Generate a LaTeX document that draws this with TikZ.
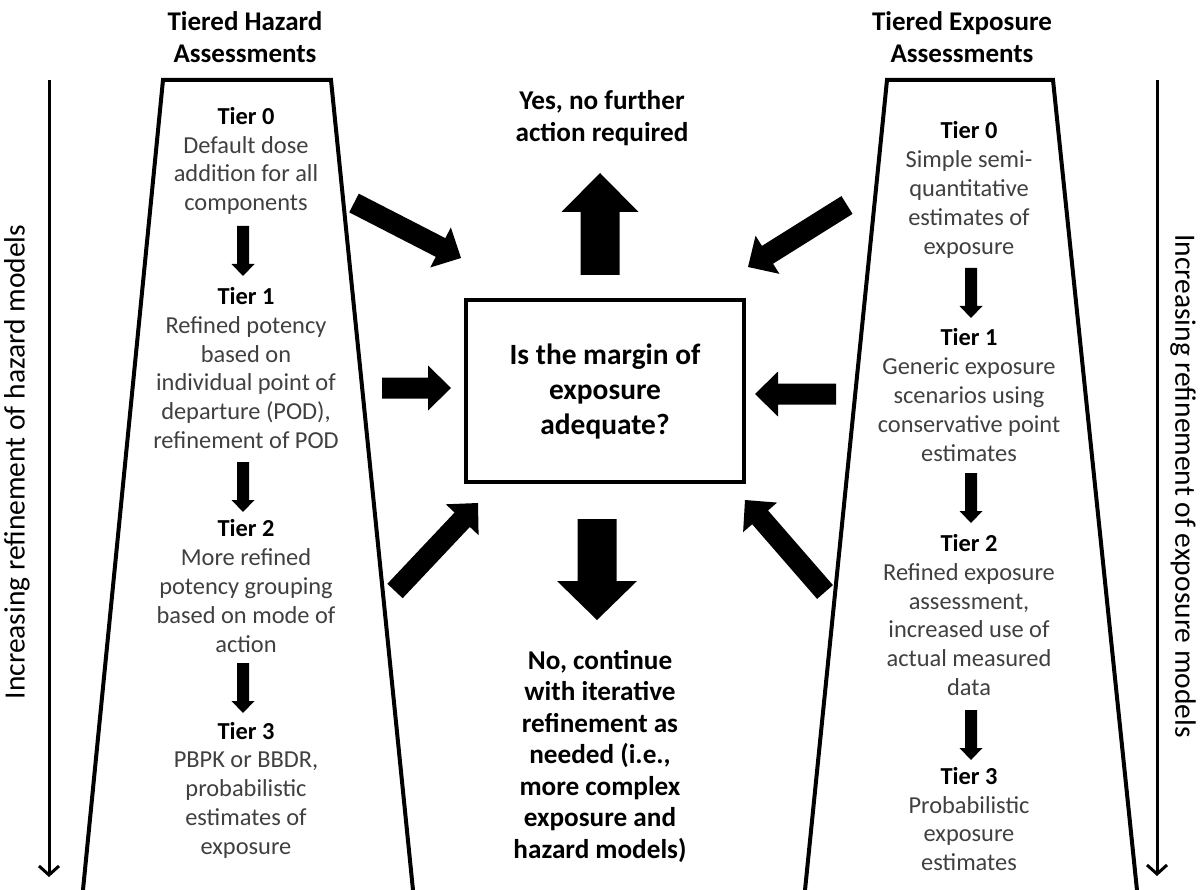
\documentclass[tikz,border=0pt]{standalone}
\usepackage{fontspec}
\setmainfont{Carlito}
\usetikzlibrary{calc,arrows.meta}
\newcommand\blockarrow[5]{% #1 tail, #2 tip, #3 half shaft, #4 half head, #5 head length
  \path ($(#2)!#5!(#1)$) coordinate (#1-base);
  \fill ($(#1)!#3!90:(#2)$) -- ($(#1-base)!#3!90:(#2)$) -- ($(#1-base)!#4!90:(#2)$) -- (#2)
     -- ($(#1-base)!#4!-90:(#2)$) -- ($(#1-base)!#3!-90:(#2)$) -- ($(#1)!#3!-90:(#2)$) -- cycle;}
\tikzset{
  head/.style={align=center, inner sep=0pt, font=\fontsize{27}{32}\selectfont\bfseries},
  tiertext/.style={align=center, inner sep=0pt, text=black!75, font=\fontsize{24.4}{28.8}\selectfont},
  bigtext/.style={align=center, inner sep=0pt, font=\fontsize{27.2}{31.5}\selectfont\bfseries},
  sidelabel/.style={inner sep=0pt, font=\fontsize{29.5}{34}\selectfont},
  frame/.style={line width=4pt, line join=miter},
  axisarrow/.style={line width=3pt, -{Straight Barb[length=9pt,width=20pt,line width=3pt]}},
}
\newcommand\tiername[1]{{\color{black}\bfseries #1}}
\begin{document}
\begin{tikzpicture}[x=1pt,y=-1pt]
\useasboundingbox (0,0) rectangle (1201,890);
\fill[white] (0,0) rectangle (1201,890);

% headings
\node[head] (hhead) at (245,37) {Tiered Hazard\\Assessments};
\node[head] (ehead) at (962,37) {Tiered Exposure\\Assessments};

% trapezoids
\draw[frame] (82,900) -- (163,80) -- (331,80) -- (414,900);
\draw[frame] (804,900) -- (887,80) -- (1053,80) -- (1138,900);

% side axes
\coordinate (la1) at (49,80); \coordinate (la2) at (49,877);
\coordinate (ra1) at (1157,80); \coordinate (ra2) at (1157,876);
\draw[axisarrow] (la1) -- (la2);
\draw[axisarrow] (ra1) -- (ra2);
\node[sidelabel, rotate=90] (llab) at (17,462) {Increasing refinement of hazard models};
\node[sidelabel, rotate=-90] (rlab) at (1183,486) {Increasing refinement of exposure models};

% left column
\node[tiertext] (h0) at (246,161) {\tiername{Tier 0}\\Default dose\\addition for all\\components};
\node[tiertext] (h1) at (246,368) {\tiername{Tier 1}\\Refined potency\\based on\\individual point of\\departure (POD),\\refinement of POD};
\node[tiertext] (h2) at (246,586) {\tiername{Tier 2}\\More refined\\potency grouping\\based on mode of\\action};
\node[tiertext] (h3) at (246,790) {\tiername{Tier 3}\\PBPK or BBDR,\\probabilistic\\estimates of\\exposure};

% right column
\node[tiertext] (e0) at (969,190) {\tiername{Tier 0}\\Simple semi-\\quantitative\\estimates of\\exposure};
\node[tiertext] (e1) at (969,395) {\tiername{Tier 1}\\Generic exposure\\scenarios using\\conservative point\\estimates};
\node[tiertext] (e2) at (969,615) {\tiername{Tier 2}\\Refined exposure\\assessment,\\increased use of\\actual measured\\data};
\node[tiertext] (e3) at (969,819) {\tiername{Tier 3}\\Probabilistic\\exposure\\estimates};

% small tier arrows
\coordinate (sh1t) at (243,226); \coordinate (sh1h) at (243,276);
\coordinate (sh2t) at (243,462); \coordinate (sh2h) at (243,512);
\coordinate (sh3t) at (243,663); \coordinate (sh3h) at (243,713);
\coordinate (se1t) at (971,268); \coordinate (se1h) at (971,318);
\coordinate (se2t) at (971,473); \coordinate (se2h) at (971,523);
\coordinate (se3t) at (971,710); \coordinate (se3h) at (971,760);
\foreach \a in {sh1,sh2,sh3,se1,se2,se3}{\blockarrow{\a t}{\a h}{6pt}{11.5pt}{12pt}}

% central box
\node[draw, line width=4pt, minimum width=278pt, minimum height=182pt, inner sep=0pt,
      align=center, font=\fontsize{29.4}{35}\selectfont\bfseries] (box) at (605,391)
      {Is the margin of\\exposure\\adequate?};

\node[bigtext] (yes) at (602,118) {Yes, no further\\action required};
\node[bigtext] (no) at (600,756) {No, continue\\with iterative\\refinement as\\needed (i.e.,\\more complex\\exposure and\\hazard models)};

% big arrows
\coordinate (upt) at (600,275); \coordinate (uph) at (600,173);
\coordinate (dnt) at (597,519); \coordinate (dnh) at (597,620);
\blockarrow{upt}{uph}{19.5pt}{38.5pt}{39pt}
\blockarrow{dnt}{dnh}{19.5pt}{40pt}{39pt}

\coordinate (lmt) at (382,388); \coordinate (lmh) at (451,388);
\coordinate (rmt) at (836,394); \coordinate (rmh) at (755,394);
\coordinate (ult) at (354,203); \coordinate (ulh) at (461,258);
\coordinate (urt) at (847,205); \coordinate (urh) at (748,267);
\coordinate (llt) at (395,591); \coordinate (llh) at (478,503);
\coordinate (lrt) at (825,592); \coordinate (lrh) at (745,500);
\foreach \a in {lm,rm,ul,ur,ll,lr}{\blockarrow{\a t}{\a h}{10.5pt}{22.5pt}{23pt}}
\end{tikzpicture}
\end{document}
